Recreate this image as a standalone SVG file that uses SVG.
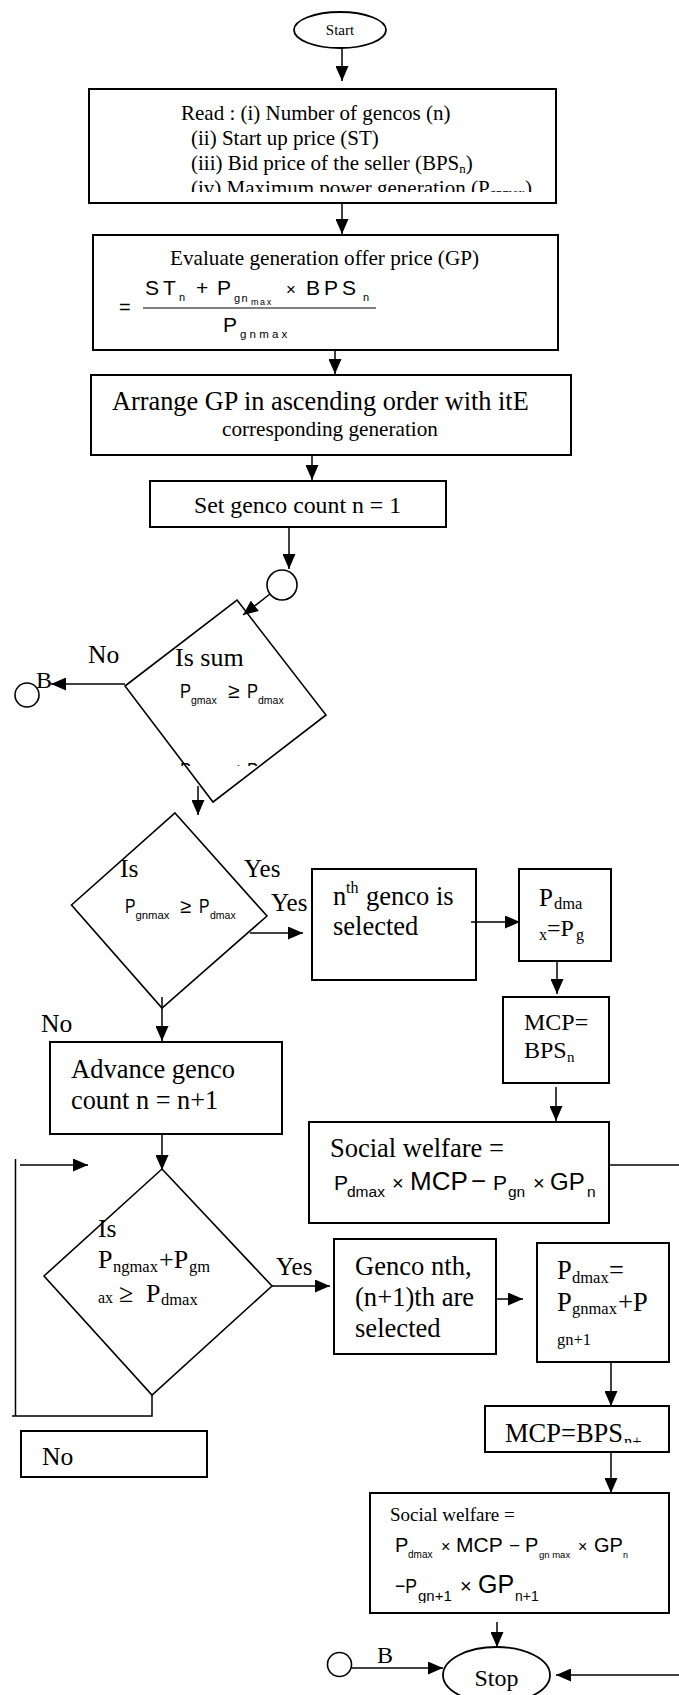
<svg xmlns="http://www.w3.org/2000/svg" width="679" height="1695" viewBox="0 0 679 1695">
<style>
.box{fill:#fff;stroke:#000;stroke-width:2}
.dia{fill:#fff;stroke:#000;stroke-width:1.6}
.ln{fill:none;stroke:#000;stroke-width:1.5}
.ar{marker-end:url(#ah)}
.s{font-family:"Liberation Serif","Times New Roman",serif;fill:#000}
.ss{font-family:"Liberation Sans",Arial,sans-serif;fill:#000}
</style>
<defs>
<marker id="ah" markerUnits="userSpaceOnUse" markerWidth="15" markerHeight="13" refX="15" refY="6.5" orient="auto">
<path d="M0,0 L15,6.5 L0,13 z" fill="#000"/>
</marker>
<clipPath id="cRead"><rect x="89" y="89" width="467" height="103"/></clipPath>
<clipPath id="cD1"><rect x="120" y="740" width="200" height="26"/></clipPath>
<clipPath id="cMcp2"><rect x="485" y="1406" width="184" height="37"/></clipPath>
<clipPath id="cSw2"><rect x="370" y="1493" width="299" height="110"/></clipPath>
</defs>

<g id="start">
<ellipse cx="340" cy="30" rx="46" ry="18" fill="#fff" stroke="#000" stroke-width="1.8"/>
<text class="s" x="340" y="35" font-size="15" text-anchor="middle">Start</text>
</g>

<g id="read">
<rect class="box" x="89" y="89" width="467" height="114"/>
<g clip-path="url(#cRead)">
<text class="s" font-size="21" x="181" y="120">Read : (i) Number of gencos (n)</text>
<text class="s" font-size="21" x="191" y="145">(ii) Start up price (ST)</text>
<text class="s" font-size="21" x="191" y="170">(iii) Bid price of the seller (BPS<tspan font-size="13" dy="3">n</tspan><tspan dy="-3">)</tspan></text>
<text class="s" font-size="21" x="191" y="195">(iv) Maximum power generation (P<tspan font-size="13" dy="2">gnmax</tspan><tspan dy="-2">)</tspan></text>
</g>
</g>

<g id="evaluate">
<rect class="box" x="93" y="235" width="465" height="115"/>
<text class="s" font-size="21.2" x="170" y="265">Evaluate generation offer price (GP)</text>
<text class="ss" font-size="20" x="119" y="314">=</text>
<line x1="143" y1="308" x2="376" y2="308" stroke="#000" stroke-width="1"/>
<text class="ss" font-size="21" y="295"><tspan x="145">S</tspan><tspan x="163">T</tspan><tspan x="196">+</tspan><tspan x="217">P</tspan><tspan x="286" font-size="17">×</tspan><tspan x="306">B</tspan><tspan x="324">P</tspan><tspan x="342">S</tspan></text>
<text class="ss" font-size="11" y="301"><tspan x="179">n</tspan><tspan x="363">n</tspan></text>
<text class="ss" font-size="11" x="234" y="302" letter-spacing="1.5">gn</text>
<text class="ss" font-size="9" x="251" y="305" letter-spacing="1.6">max</text>
<text class="ss" font-size="21" x="223" y="332">P</text>
<text class="ss" font-size="11.5" x="240" y="338" letter-spacing="3.2">gnmax</text>
</g>

<g id="arrange">
<rect class="box" x="91" y="375" width="480" height="80"/>
<text class="s" font-size="26.3" x="112" y="410">Arrange GP in ascending order with itE</text>
<text class="s" font-size="21.2" x="222" y="436">corresponding generation</text>
</g>

<g id="setcount">
<rect class="box" x="150" y="481" width="296" height="46"/>
<text class="s" font-size="23.8" x="194" y="513">Set genco count n = 1</text>
</g>

<g id="connector-a">
<circle cx="282" cy="585" r="15" fill="#fff" stroke="#000" stroke-width="1.6"/>
</g>

<g id="decision-sum">
<polygon class="dia" points="237,600 326,715 213,802 125,686"/>
<text class="s" font-size="26" x="175" y="666">Is sum</text>
<text class="ss" font-size="21" x="180" y="698" textLength="11" lengthAdjust="spacingAndGlyphs">P</text>
<text class="ss" font-size="21" x="228" y="698">≥</text>
<text class="ss" font-size="21" x="247" y="698" textLength="11" lengthAdjust="spacingAndGlyphs">P</text>
<text class="ss" font-size="10.5" y="704"><tspan x="191">gmax</tspan><tspan x="258">dmax</tspan></text>
<g clip-path="url(#cD1)">
<text class="ss" font-size="21" x="180" y="777" textLength="11" lengthAdjust="spacingAndGlyphs">P</text>
<text class="ss" font-size="21" x="228" y="777">&lt;</text>
<text class="ss" font-size="21" x="247" y="777" textLength="11" lengthAdjust="spacingAndGlyphs">P</text>
</g>
<text class="s" font-size="25.6" x="88" y="663">No</text>
</g>

<g id="connector-b-top">
<circle cx="27" cy="695" r="12" fill="#fff" stroke="#000" stroke-width="1.6"/>
<text class="s" font-size="24" x="36" y="688">B</text>
</g>

<g id="decision-n">
<polygon class="dia" points="175,813 267,916 162,1008 71.5,905"/>
<text class="s" font-size="25.6" x="120" y="877">Is</text>
<text class="ss" font-size="20" x="125" y="913" textLength="10.5" lengthAdjust="spacingAndGlyphs">P</text>
<text class="ss" font-size="20" x="180" y="913">≥</text>
<text class="ss" font-size="20" x="199" y="913" textLength="10.5" lengthAdjust="spacingAndGlyphs">P</text>
<text class="ss" font-size="11.3" x="135.5" y="919">gnmax</text>
<text class="ss" font-size="10.5" x="210" y="919">dmax</text>
<text class="s" font-size="25" x="244" y="877">Yes</text>
<text class="s" font-size="25" x="271" y="911">Yes</text>
<text class="s" font-size="25.6" x="41" y="1032">No</text>
</g>

<g id="nth-selected">
<rect class="box" x="312" y="869" width="164" height="111"/>
<text class="s" font-size="26.5" x="333" y="905">n</text>
<text class="s" font-size="16" x="346" y="893">th</text>
<text class="s" font-size="26.5" x="366" y="905">genco is</text>
<text class="s" font-size="26.5" x="333" y="935">selected</text>
</g>

<g id="pdmax1">
<rect class="box" x="519" y="869" width="92" height="92"/>
<text class="s" font-size="25" x="539" y="906">P</text>
<text class="s" font-size="16.5" x="554" y="909">dma</text>
<text class="s" font-size="16" x="539" y="940">x</text>
<text class="s" font-size="24" x="547" y="936">=P</text>
<text class="s" font-size="16" x="576" y="940">g</text>
</g>

<g id="mcp1">
<rect class="box" x="503" y="997" width="106" height="86"/>
<text class="s" font-size="24" x="524" y="1030">MCP=</text>
<text class="s" font-size="24" x="524" y="1058">BPS</text>
<text class="s" font-size="15" x="567" y="1062">n</text>
</g>

<g id="advance">
<rect class="box" x="50" y="1042" width="232" height="92"/>
<text class="s" font-size="26.5" x="71" y="1078">Advance genco</text>
<text class="s" font-size="26.3" x="71" y="1109">count n = n+1</text>
</g>

<g id="welfare1">
<rect class="box" x="309" y="1122" width="300" height="101"/>
<text class="s" font-size="26.5" x="330" y="1157">Social welfare =</text>
<text class="ss" y="1190"><tspan x="334" font-size="21">P</tspan><tspan x="392" font-size="20">×</tspan><tspan x="410" font-size="26">MCP</tspan><tspan x="471" font-size="26">−</tspan><tspan x="493" font-size="21">P</tspan><tspan x="533" font-size="20">×</tspan><tspan x="550" font-size="24">GP</tspan></text>
<text class="ss" font-size="15.5" y="1197"><tspan x="347">dmax</tspan><tspan x="508">gn</tspan><tspan x="587">n</tspan></text>
</g>

<g id="decision-pair">
<polygon class="dia" points="162,1169 272,1286 152,1395 44,1276"/>
<text class="s" font-size="25.6" x="98" y="1237">Is</text>
<text class="s" font-size="26" x="98" y="1268">P</text>
<text class="s" font-size="16.5" x="113" y="1272">ngmax</text>
<text class="s" font-size="26" x="159" y="1268">+P</text>
<text class="s" font-size="16.5" x="189" y="1272">gm</text>
<text class="s" font-size="16" x="98" y="1303">ax</text>
<text class="s" font-size="26" x="119" y="1302">≥</text>
<text class="s" font-size="26" x="146" y="1302">P</text>
<text class="s" font-size="16.5" x="161" y="1305">dmax</text>
<text class="s" font-size="25" x="276" y="1275">Yes</text>
</g>

<g id="pair-selected">
<rect class="box" x="334" y="1239" width="162" height="115"/>
<text class="s" font-size="26.6" x="355" y="1275">Genco nth,</text>
<text class="s" font-size="26.6" x="355" y="1306">(n+1)th are</text>
<text class="s" font-size="26.6" x="355" y="1337">selected</text>
</g>

<g id="pdmax2">
<rect class="box" x="537" y="1243" width="132" height="119"/>
<text class="s" font-size="26.5" x="557" y="1279">P</text>
<text class="s" font-size="16.5" x="572" y="1283">dmax</text>
<text class="s" font-size="26.5" x="609" y="1279">=</text>
<text class="s" font-size="26.5" x="557" y="1311">P</text>
<text class="s" font-size="16.5" x="572" y="1314">gnmax</text>
<text class="s" font-size="26.5" x="618" y="1311">+P</text>
<text class="s" font-size="16.5" x="557" y="1345">gn+1</text>
</g>

<g id="no-box">
<rect class="box" x="21" y="1431" width="186" height="46"/>
<text class="s" font-size="25.6" x="42" y="1465">No</text>
</g>

<g id="mcp2">
<rect class="box" x="485" y="1406" width="184" height="46"/>
<text class="s" font-size="26.5" x="505" y="1442">MCP=BPS</text>
<g clip-path="url(#cMcp2)">
<text class="s" font-size="16.5" x="624" y="1446.5">n+</text>
</g>
</g>

<g id="welfare2">
<rect class="box" x="370" y="1493" width="299" height="120"/>
<text class="s" font-size="19" x="390" y="1521">Social welfare =</text>
<text class="ss" y="1552"><tspan x="395" font-size="20">P</tspan><tspan x="441" font-size="16">×</tspan><tspan x="456" font-size="21">MCP</tspan><tspan x="509" font-size="19">−</tspan><tspan x="525" font-size="20">P</tspan><tspan x="578" font-size="16">×</tspan><tspan x="594" font-size="20">GP</tspan></text>
<text class="ss" y="1558"><tspan x="408" font-size="10">dmax</tspan><tspan x="539" font-size="9.5">gn max</tspan><tspan x="623" font-size="9">n</tspan></text>
<g clip-path="url(#cSw2)">
<text class="ss" font-size="21" x="395" y="1593" textLength="22" lengthAdjust="spacingAndGlyphs">−P</text>
<text class="ss" y="1593"><tspan x="460" font-size="20">×</tspan><tspan x="478" font-size="25">GP</tspan></text>
<text class="ss" y="1601"><tspan x="418" font-size="15">gn+1</tspan><tspan x="515" font-size="14">n+1</tspan></text>
</g>
</g>

<g id="connector-b-bottom">
<circle cx="339.5" cy="1664.5" r="12" fill="#fff" stroke="#000" stroke-width="1.6"/>
<text class="s" font-size="24" x="377" y="1663">B</text>
</g>

<g id="stop">
<ellipse cx="496.5" cy="1675" rx="53.5" ry="28" fill="#fff" stroke="#000" stroke-width="1.8"/>
<text class="s" font-size="24" x="496.5" y="1686" text-anchor="middle">Stop</text>
</g>

<g id="connectors">
<line class="ln ar" x1="342" y1="48" x2="342" y2="81"/>
<line class="ln ar" x1="342" y1="203" x2="342" y2="234"/>
<line class="ln ar" x1="335" y1="350" x2="335" y2="374"/>
<line class="ln ar" x1="312" y1="455" x2="312" y2="480"/>
<line class="ln ar" x1="289" y1="527" x2="289" y2="569"/>
<line class="ln ar" x1="270" y1="594" x2="243" y2="615"/>
<line class="ln ar" x1="125" y1="684" x2="51" y2="684"/>
<line class="ln ar" x1="198" y1="786" x2="198" y2="815"/>
<line class="ln ar" x1="250" y1="933" x2="303" y2="933"/>
<line class="ln ar" x1="471" y1="922" x2="520" y2="922"/>
<line class="ln ar" x1="557" y1="961" x2="557" y2="994"/>
<line class="ln ar" x1="556" y1="1087" x2="556" y2="1121"/>
<line class="ln ar" x1="162" y1="997" x2="162" y2="1041"/>
<line class="ln ar" x1="162" y1="1134" x2="162" y2="1170"/>
<polyline class="ln" points="152,1395 152,1416 12,1416"/>
<line class="ln" x1="15.5" y1="1159" x2="15.5" y2="1416"/>
<line class="ln ar" x1="20" y1="1165" x2="88" y2="1165"/>
<line class="ln ar" x1="272" y1="1286" x2="330" y2="1286"/>
<line class="ln ar" x1="496" y1="1299" x2="523" y2="1299"/>
<line class="ln ar" x1="611" y1="1362" x2="611" y2="1406"/>
<line class="ln ar" x1="611" y1="1452" x2="611" y2="1493"/>
<line class="ln ar" x1="497" y1="1622" x2="497" y2="1647"/>
<line class="ln ar" x1="351.5" y1="1668" x2="443" y2="1668"/>
<line class="ln" x1="609" y1="1165" x2="679" y2="1165"/>
<line class="ln ar" x1="679" y1="1675" x2="556" y2="1675"/>
</g>
</svg>
